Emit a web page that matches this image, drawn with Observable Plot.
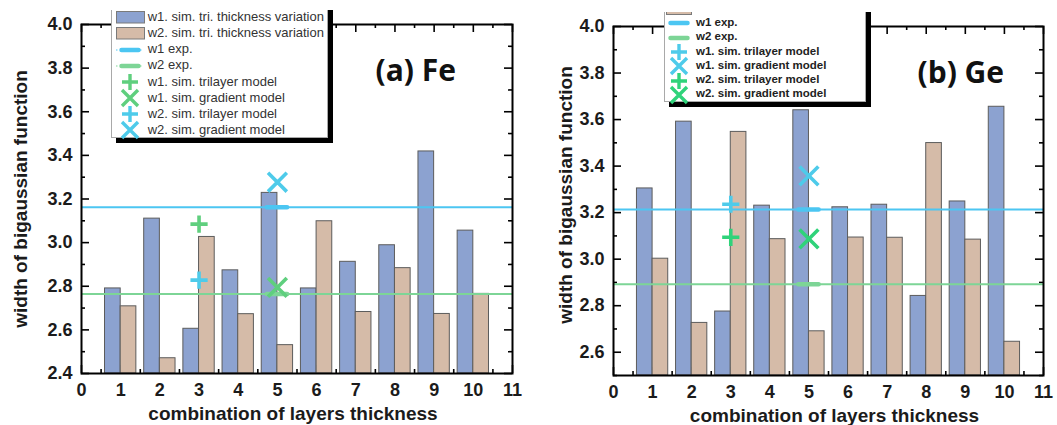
<!DOCTYPE html>
<html>
<head>
<meta charset="utf-8">
<script src="https://cdn.jsdelivr.net/npm/d3@7"></script>
<script src="https://cdn.jsdelivr.net/npm/@observablehq/plot@0.6"></script>
<style>
  body { margin: 0; background: #fff; }
  #page { position: relative; width: 1057px; height: 425px; overflow: hidden; background: #fff;
          font-family: "Liberation Sans", Arial, sans-serif; }
  .panel { position: absolute; top: 0; }
  .legwrap { position: absolute; overflow: hidden; }
  .legbox { position: absolute; left: 0; background: #fff; border: 1px solid #a9a9a9;
            box-shadow: 5px 5px 0 #000; box-sizing: border-box; }
  .legsym { position: absolute; overflow: visible; }
  .legtxt { position: absolute; white-space: nowrap; line-height: 1; }
</style>
</head>
<body>
<div id="page"></div>
<script>
// ---- data -------------------------------------------------------------
const combos = [1, 2, 3, 4, 5, 6, 7, 8, 9, 10];
const xTicks = [0, 1, 2, 3, 4, 5, 6, 7, 8, 9, 10, 11];
const xMinorTicks = [0.5, 1.5, 2.5, 3.5, 4.5, 5.5, 6.5, 7.5, 8.5, 9.5, 10.5];

// (a) Fe
const feW1 = [2.79, 3.11, 2.605, 2.873, 3.228, 2.79, 2.912, 2.988, 3.418, 3.055];
const feW2 = [2.708, 2.47, 3.026, 2.672, 2.53, 3.098, 2.682, 2.883, 2.673, 2.765];
const feW1Exp = 3.162;
const feW2Exp = 2.764;
const feYTicks = [2.4, 2.6, 2.8, 3.0, 3.2, 3.4, 3.6, 3.8, 4.0];
const feYMinor = [2.5, 2.7, 2.9, 3.1, 3.3, 3.5, 3.7, 3.9];
const feSimValues = [3.085, 2.795, 2.828, 3.277];

// (b) Ge
const geW1 = [3.304, 3.591, 2.775, 3.23, 3.64, 3.223, 3.234, 2.842, 3.248, 3.655];
const geW2 = [3.002, 2.726, 3.547, 3.086, 2.69, 3.093, 3.092, 3.499, 3.084, 2.645];
const geW1Exp = 3.214;
const geW2Exp = 2.892;
const geYTicks = [2.6, 2.8, 3.0, 3.2, 3.4, 3.6, 3.8, 4.0];
const geYMinor = [2.5, 2.7, 2.9, 3.1, 3.3, 3.5, 3.7, 3.9];
const geSimValues = [3.236, 3.358, 3.094, 3.087];

// simulated single-model points, shared labels and positions
const simLabels = ["w1. sim. trilayer model", "w1. sim. gradient model",
                   "w2. sim. trilayer model", "w2. sim. gradient model"];
const simCombo = [3, 5, 3, 5];
const expCombo = 5; // combination where the experimental symbol sits

const barLabels = ["w1. sim. tri. thickness variation", "w2. sim. tri. thickness variation"];
const expLabels = ["w1 exp.", "w2 exp."];

const xTitle = "combination of layers thickness";
const yTitle = "width of bigaussian function";

// ---- styles -----------------------------------------------------------
const BLUE = "#8ca2d0", BROWN = "#d5bba8", BAR_EDGE = "#5c5c5c";
const CYAN_LINE = "#4cc6f2", GREEN_LINE = "#7dd596";
const CYAN_MARK = "#4ecbea";

const symbolOf = label => label.includes("gradient") ? "times" : "plus";

function makePanel(o) {
  const height = 425;
  const [mt, mr, mb, ml] = o.margin;
  const fw = o.width - ml - mr, fh = height - mt - mb;
  const yMin = o.yDomain[0];
  const rows1 = combos.map((k, i) => ({k, v: o.w1[i]}));
  const rows2 = combos.map((k, i) => ({k, v: o.w2[i]}));
  const sims = simLabels.map((label, i) => ({
    label, x: simCombo[i], y: o.simValues[i],
    color: label.startsWith("w1") ? o.w1SimColor : o.w2SimColor
  }));
  const major = 8, minor = 4;
  return Plot.plot({
    width: o.width, height,
    marginTop: mt, marginRight: mr, marginBottom: mb, marginLeft: ml,
    x: {domain: [0, 11]},
    y: {domain: o.yDomain},
    style: {fontFamily: "'Liberation Sans', Arial, sans-serif", fontSize: "18px",
            fontWeight: "bold", color: "#1b1b1b", background: "transparent", overflow: "visible"},
    marks: [
      // inward ticks on all four sides
      Plot.tickY(o.yTicks, {insetRight: fw - major, stroke: "#000", strokeWidth: 1.6}),
      Plot.tickY(o.yTicks, {insetLeft: fw - major, stroke: "#000", strokeWidth: 1.6}),
      Plot.tickY(o.yMinor, {insetRight: fw - minor, stroke: "#000", strokeWidth: 1.6}),
      Plot.tickY(o.yMinor, {insetLeft: fw - minor, stroke: "#000", strokeWidth: 1.6}),
      Plot.tickX(xTicks, {insetBottom: fh - major, stroke: "#000", strokeWidth: 1.6}),
      Plot.tickX(xTicks, {insetTop: fh - major, stroke: "#000", strokeWidth: 1.6}),
      Plot.tickX(xMinorTicks, {insetBottom: fh - minor, stroke: "#000", strokeWidth: 1.6}),
      Plot.tickX(xMinorTicks, {insetTop: fh - minor, stroke: "#000", strokeWidth: 1.6}),
      // grouped bars: w1 left of the combination, w2 right of it
      Plot.rectY(rows1, {x1: d => d.k - 0.4, x2: d => d.k, y1: yMin, y2: "v",
                         fill: BLUE, stroke: BAR_EDGE, strokeWidth: 1}),
      Plot.rectY(rows2, {x1: d => d.k, x2: d => d.k + 0.4, y1: yMin, y2: "v",
                         fill: BROWN, stroke: BAR_EDGE, strokeWidth: 1}),
      // experimental widths
      Plot.ruleY([o.w1Exp], {stroke: CYAN_LINE, strokeWidth: 2}),
      Plot.ruleY([o.w2Exp], {stroke: GREEN_LINE, strokeWidth: 2}),
      Plot.ruleY([o.w1Exp], {x1: expCombo - 0.26, x2: expCombo + 0.26, stroke: CYAN_LINE,
                             strokeWidth: 4.5, strokeLinecap: "round"}),
      Plot.ruleY([o.w2Exp], {x1: expCombo - 0.26, x2: expCombo + 0.26, stroke: GREEN_LINE,
                             strokeWidth: 4.5, strokeLinecap: "round"}),
      // simulated single models
      Plot.dot(sims.filter(d => symbolOf(d.label) === "plus"),
               {x: "x", y: "y", symbol: "plus", r: 5.6, stroke: "color", strokeWidth: 3.6}),
      Plot.dot(sims.filter(d => symbolOf(d.label) === "times"),
               {x: "x", y: "y", symbol: "times", r: 8.6, stroke: "color", strokeWidth: 3.6}),
      // axes
      Plot.axisY(o.yTicks, {anchor: "left", tickSize: 0, tickPadding: 9,
                            tickFormat: d3.format(".1f"), label: null}),
      Plot.axisX(xTicks, {anchor: "bottom", tickSize: 0, tickPadding: 10, label: null}),
      Plot.text([xTitle], {frameAnchor: "bottom", dy: 40.5, dx: o.xTitleDx, textAnchor: "middle",
                           lineAnchor: "middle", fontSize: 19, fontWeight: "bold"}),
      Plot.text([yTitle], {frameAnchor: "left", rotate: -90, dx: o.yTitleDx, dy: o.yTitleDy,
                           textAnchor: "middle", lineAnchor: "middle", fontSize: 19, fontWeight: "bold"}),
      Plot.text([o.title], {frameAnchor: "top-left", dx: o.titleDx, dy: o.titleDy,
                            textAnchor: "start", lineAnchor: "middle", fontSize: 30,
                            fontWeight: "bold", fontFamily: "'Open Sans', sans-serif", fill: "#111"}),
      Plot.frame({stroke: "#000", strokeWidth: 2})
    ]
  });
}

function symbolSvg(kind, color, w, h) {
  const ns = "http://www.w3.org/2000/svg";
  const svg = document.createElementNS(ns, "svg");
  svg.setAttribute("width", w); svg.setAttribute("height", h);
  const cx = w / 2, cy = h / 2;
  const add = (tag, attrs) => {
    const el = document.createElementNS(ns, tag);
    for (const k in attrs) el.setAttribute(k, attrs[k]);
    svg.appendChild(el);
  };
  if (kind === "swatch") {
    add("rect", {x: 0.5, y: 0.5, width: w - 1, height: h - 1, fill: color, stroke: "#7a7a7a"});
  } else if (kind === "line" || kind === "line-dotted") {
    if (kind === "line-dotted")
      add("line", {x1: 1, x2: w - 1, y1: cy, y2: cy, stroke: color, "stroke-width": 1,
                   "stroke-dasharray": "1.5 2.5"});
    add("line", {x1: cx - 8.5, x2: cx + 8.5, y1: cy, y2: cy, stroke: color,
                 "stroke-width": 4.5, "stroke-linecap": "round"});
  } else if (kind === "plus") {
    add("path", {d: `M${cx - 8},${cy}H${cx + 8}M${cx},${cy - 8}V${cy + 8}`,
                 stroke: color, "stroke-width": 3.4, fill: "none"});
  } else if (kind === "times") {
    add("path", {d: `M${cx - 8},${cy - 8}L${cx + 8},${cy + 8}M${cx - 8},${cy + 8}L${cx + 8},${cy - 8}`,
                 stroke: color, "stroke-width": 3.4, fill: "none"});
  }
  return svg;
}

// Legend box whose top runs past the upper edge of the figure; `clipTop` is
// the page y where the visible part begins, all other offsets are page-based.
function makeLegend(page, o) {
  const wrap = document.createElement("div");
  wrap.className = "legwrap";
  Object.assign(wrap.style, {left: o.left + "px", top: o.clipTop + "px",
                             width: (o.right - o.left + 6) + "px",
                             height: (o.bottom - o.clipTop + 6) + "px"});
  const box = document.createElement("div");
  box.className = "legbox";
  Object.assign(box.style, {top: (o.boxTop - o.clipTop) + "px", width: (o.right - o.left) + "px",
                            height: (o.bottom - o.boxTop) + "px"});
  wrap.appendChild(box);
  o.items.forEach((it, i) => {
    const cy = o.row0 + i * o.step - o.clipTop;
    const isSwatch = it.kind === "swatch";
    const sw = isSwatch ? o.swatchW : 30, sh = isSwatch ? o.swatchH : 20;
    const s = symbolSvg(it.kind, it.color, sw, sh);
    s.setAttribute("class", "legsym");
    s.style.left = (o.symCx - o.left - sw / 2) + "px";
    s.style.top = (cy - sh / 2) + "px";
    wrap.appendChild(s);
    const t = document.createElement("div");
    t.className = "legtxt";
    t.textContent = it.label;
    Object.assign(t.style, {left: (o.textX - o.left) + "px", top: (cy - o.fontSize * 0.55) + "px",
                            fontSize: o.fontSize + "px", fontWeight: o.fontWeight, color: o.color});
    wrap.appendChild(t);
  });
  page.appendChild(wrap);
}

const page = document.getElementById("page");

// panel (a) Fe
const GREEN_MARK_A = "#5fcf7e";
const feChart = makePanel({
  w1: feW1, w2: feW2, w1Exp: feW1Exp, w2Exp: feW2Exp,
  yDomain: [2.4, 4.0], yTicks: feYTicks, yMinor: feYMinor,
  simValues: feSimValues, w1SimColor: GREEN_MARK_A, w2SimColor: CYAN_MARK,
  width: 528, margin: [24, 16, 52, 81],
  title: "(a) Fe", titleDx: 294, titleDy: 47,
  xTitleDx: -4, yTitleDx: -61, yTitleDy: 0
});
feChart.classList.add("panel");
feChart.style.left = "0px";
page.appendChild(feChart);

// panel (b) Ge
const GREEN_MARK_B = "#2fd37a";
const geChart = makePanel({
  w1: geW1, w2: geW2, w1Exp: geW1Exp, w2Exp: geW2Exp,
  yDomain: [2.5, 4.0], yTicks: geYTicks, yMinor: geYMinor,
  simValues: geSimValues, w1SimColor: CYAN_MARK, w2SimColor: GREEN_MARK_B,
  width: 529, margin: [26, 14, 50, 85],
  title: "(b) Ge", titleDx: 304, titleDy: 47,
  xTitleDx: 6, yTitleDx: -48, yTitleDy: -6
});
geChart.classList.add("panel");
geChart.style.left = "528px";
page.appendChild(geChart);

// legends
makeLegend(page, {
  left: 111, right: 328, clipTop: 10, boxTop: 4, bottom: 138,
  row0: 17.3, step: 16.1, symCx: 130, textX: 147.7, swatchW: 29, swatchH: 12.5,
  fontSize: 13, fontWeight: "normal", color: "#333",
  items: [
    {kind: "swatch", color: BLUE, label: barLabels[0]},
    {kind: "swatch", color: BROWN, label: barLabels[1]},
    {kind: "line-dotted", color: CYAN_LINE, label: expLabels[0]},
    {kind: "line-dotted", color: GREEN_LINE, label: expLabels[1]},
    {kind: symbolOf(simLabels[0]), color: GREEN_MARK_A, label: simLabels[0]},
    {kind: symbolOf(simLabels[1]), color: GREEN_MARK_A, label: simLabels[1]},
    {kind: symbolOf(simLabels[2]), color: CYAN_MARK, label: simLabels[2]},
    {kind: symbolOf(simLabels[3]), color: CYAN_MARK, label: simLabels[3]}
  ]
});
makeLegend(page, {
  left: 664, right: 866, clipTop: 12, boxTop: -6, bottom: 102,
  row0: -5.3, step: 14.3, symCx: 679, textX: 696, swatchW: 26, swatchH: 12,
  fontSize: 11.5, fontWeight: "bold", color: "#222",
  items: [
    {kind: "swatch", color: BLUE, label: barLabels[0]},
    {kind: "swatch", color: BROWN, label: barLabels[1]},
    {kind: "line", color: CYAN_LINE, label: expLabels[0]},
    {kind: "line", color: GREEN_LINE, label: expLabels[1]},
    {kind: symbolOf(simLabels[0]), color: CYAN_MARK, label: simLabels[0]},
    {kind: symbolOf(simLabels[1]), color: CYAN_MARK, label: simLabels[1]},
    {kind: symbolOf(simLabels[2]), color: GREEN_MARK_B, label: simLabels[2]},
    {kind: symbolOf(simLabels[3]), color: GREEN_MARK_B, label: simLabels[3]}
  ]
});
</script>
</body>
</html>
